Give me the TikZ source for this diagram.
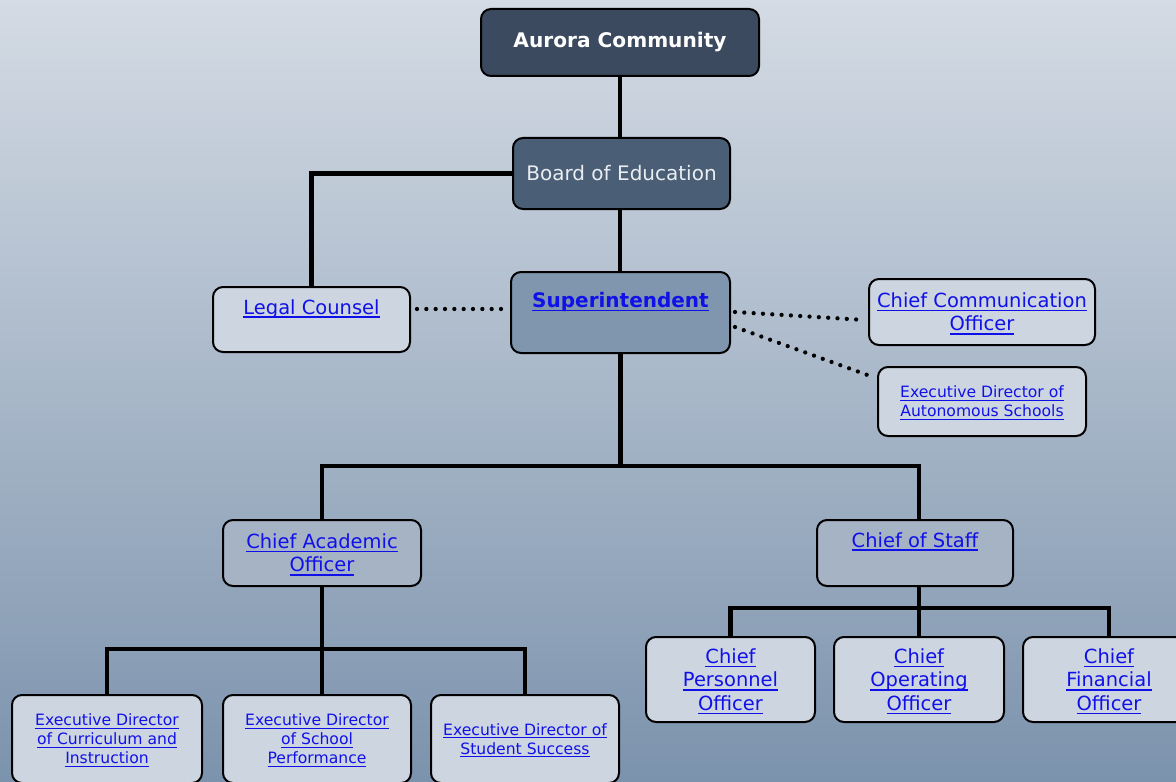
\documentclass[tikz,border=0pt]{standalone}
\usepackage{fontspec}
\setmainfont{DejaVu Sans}
\usetikzlibrary{calc}
\newsavebox\ulinkbox
\newcommand\ulink[1]{\sbox\ulinkbox{#1}\rlap{\raisebox{-0.2em}[0pt][0pt]{\rule{\wd\ulinkbox}{0.075em}}}\usebox\ulinkbox}
\definecolor{bgtop}{RGB}{212,219,228}
\definecolor{bgbot}{RGB}{124,147,173}
\definecolor{aurfill}{RGB}{59,74,94}
\definecolor{boardfill}{RGB}{74,94,118}
\definecolor{supfill}{RGB}{127,150,174}
\definecolor{lightfill}{RGB}{205,214,224}
\definecolor{midfill}{RGB}{165,179,197}
\definecolor{linkblue}{RGB}{16,16,232}
\definecolor{boardtext}{RGB}{234,238,242}
\begin{document}
\begin{tikzpicture}[x=0.75pt,y=-0.75pt,
  box/.style={draw=black, line width=1.5pt, rounded corners=7.5pt, inner sep=0pt, align=center},
  wh/.style 2 args={minimum width=#1*0.75pt, minimum height=#2*0.75pt},
  lk/.style={text=linkblue},
  med/.style={font=\fontsize{14.6}{17.6}\selectfont},
  sml/.style={font=\fontsize{11.7}{14.3}\selectfont},
  lightbox/.style={box, fill=lightfill, lk},
  midbox/.style={box, fill=midfill, lk},
  conn/.style={line width=3.6pt, black},
  dotc/.style={line width=3.2pt, dash pattern=on 0pt off 7pt, line cap=round, black}
]
\useasboundingbox (0,0) rectangle (1176,781);
\clip (0,0) rectangle (1176,781);
\shade[top color=bgtop, bottom color=bgbot] (0,0) rectangle (1176,781);

% top nodes
\node[box, fill=aurfill, text=white, font=\fontsize{15.1}{18}\selectfont\bfseries, wh={278}{67}] (aur) at (620,42.5) {Aurora Community};
\node[box, fill=boardfill, text=boardtext, font=\fontsize{15}{18}\selectfont, wh={217}{71}] (board) at (621.5,173.5) {Board of Education};
\node[box, fill=supfill, lk, font=\fontsize{15}{18}\selectfont\bfseries, wh={219}{81}] (sup) at (620.5,312.5) {\raisebox{4.1pt}[0pt][0pt]{\ulink{Superintendent}}};
\node[lightbox, med, wh={197}{65}] (legal) at (311.5,319.5) {\raisebox{4.1pt}[0pt][0pt]{\ulink{Legal Counsel}}};
\node[lightbox, med, wh={226}{66}] (comm) at (982,312) {\ulink{Chief Communication}\\\ulink{Officer}};
\node[lightbox, sml, wh={208}{69}] (auto) at (982,401.5) {\ulink{Executive Director of}\\\ulink{Autonomous Schools}};

% second level
\node[midbox, med, wh={198}{66}] (cao) at (322,553) {\ulink{Chief Academic}\\\ulink{Officer}};
\node[midbox, med, wh={196}{66}] (cos) at (915,553) {\raisebox{4.5pt}[0pt][0pt]{\ulink{Chief of Staff}}};

% academic children
\node[lightbox, font=\fontsize{11.7}{14.25}\selectfont, wh={190}{88}] (cur) at (107,739) {\ulink{Executive Director}\\\ulink{of Curriculum and}\\\ulink{Instruction}};
\node[lightbox, font=\fontsize{11.7}{14.25}\selectfont, wh={188}{88}] (perf) at (317,739) {\ulink{Executive Director}\\\ulink{of School}\\\ulink{Performance}};
\node[lightbox, font=\fontsize{11.7}{14.25}\selectfont, wh={188}{88}] (succ) at (525,739) {\ulink{Executive Director of}\\\ulink{Student Success}};

% staff children
\node[lightbox, med, wh={169}{85}] (pers) at (730.5,679.5) {\ulink{Chief}\\\ulink{Personnel}\\\ulink{Officer}};
\node[lightbox, med, wh={170}{85}] (oper) at (919,679.5) {\ulink{Chief}\\\ulink{Operating}\\\ulink{Officer}};
\node[lightbox, med, wh={172}{85}] (fin) at (1109,679.5) {\ulink{Chief}\\\ulink{Financial}\\\ulink{Officer}};

% solid connectors
\draw[conn] (aur.south) -- (aur.south |- board.north);
\draw[conn] (board.south -| aur.south) -- (sup.north -| aur.south);
\draw[conn] (board.west) -| (legal.north);
\coordinate (j1) at ($(sup.south)+(0,112)$);
\coordinate (cosin) at ($(cos.north)+(4,0)$);
\draw[conn] (sup.south) -- (j1);
\draw[conn] (cao.north) |- (j1) -| (cosin);
\coordinate (j2) at ($(cao.south)+(0,62)$);
\draw[conn] (cao.south) -- (j2);
\draw[conn] (cur.north) |- (j2) -| (succ.north);
\draw[conn] (j2) -- (perf.north -| j2);
\coordinate (j3) at ($(cos.south)+(4,21)$);
\draw[conn] (cos.south -| j3) -- (j3);
\draw[conn] (pers.north) |- (j3) -| (fin.north);
\draw[conn] (j3) -- (oper.north -| j3);

% dotted connectors
\draw[dotc] ($(legal.north east)+(6,23)$) -- ($(sup.north west)+(-4,38)$);
\draw[dotc] ($(sup.north east)+(4,41)$) -- ($(comm.north west)+(-3,42)$);
\draw[dotc] ($(sup.north east)+(4,56)$) -- ($(auto.north west)+(-4,11)$);
\end{tikzpicture}
\end{document}
